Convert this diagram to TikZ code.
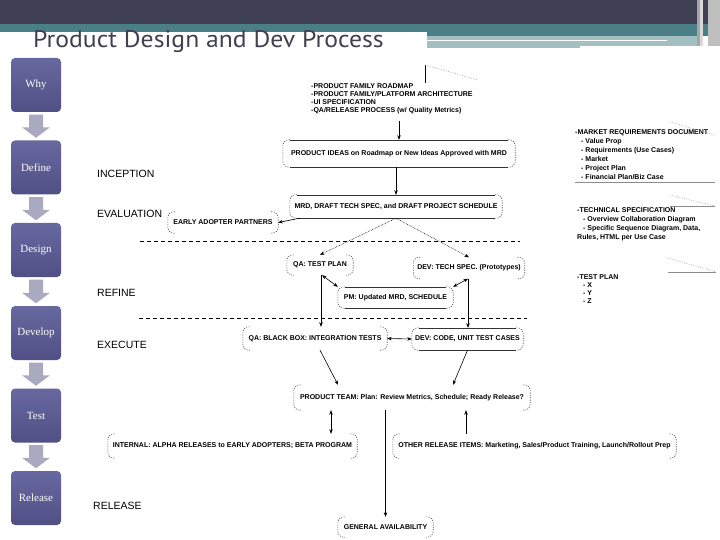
\documentclass[tikz,border=0pt]{standalone}
\usepackage{fontspec}
\setmainfont{Liberation Sans}
\newfontfamily\serifface{Liberation Serif}
\newfontfamily\titleface{PT Sans}[FakeStretch=1.07]
\usetikzlibrary{arrows.meta,calc}
\definecolor{hdrdark}{HTML}{404055}
\definecolor{hdrteal}{HTML}{4A7F87}
\definecolor{hdrlight}{HTML}{A3BFC1}
\definecolor{titlecol}{HTML}{404050}
\definecolor{boxtop}{HTML}{6868A0}
\definecolor{boxbot}{HTML}{505086}
\definecolor{arrowgrey}{HTML}{A9A9C0}
\definecolor{capgrey}{HTML}{5A5A5A}
\newcommand\captext{\bfseries\fontsize{7}{8}\selectfont}
\newcommand\capends[1]{%
  \draw[capline] ([xshift=7pt]#1.north west) -| (#1.south west) -- ([xshift=7pt]#1.south west);
  \draw[capline] ([xshift=-7pt]#1.north east) -| (#1.south east) -- ([xshift=-7pt]#1.south east);}
\newcommand\capsides[1]{%
  \draw[sideline] ([xshift=7pt]#1.north west) -- ([xshift=-7pt]#1.north east);
  \draw[sideline] ([xshift=7pt]#1.south west) -- ([xshift=-7pt]#1.south east);}
\begin{document}
\begin{tikzpicture}[x=1pt,y=-1pt,
  phasebox/.style={rounded corners=4pt, top color=boxtop, bottom color=boxbot,
    minimum width=50pt, minimum height=54pt, inner sep=0pt, text=white,
    font=\serifface\fontsize{11}{13}\selectfont},
  capnode/.style={font=\captext, inner sep=0pt, align=center},
  capline/.style={rounded corners=6pt, draw=capgrey, line width=0.6pt, dash pattern=on 1.2pt off 1.2pt},
  sideline/.style={draw=black!80, line width=0.5pt},
  phase/.style={anchor=west, inner sep=0pt, font=\fontsize{10.5}{12}\selectfont},
  note/.style={anchor=north west, inner sep=0pt, align=left, font=\bfseries\fontsize{7}{8}\selectfont},
  arr/.style={-{Stealth[length=4.5pt,width=3.5pt]}, line width=0.6pt},
  darr/.style={{Stealth[length=4.5pt,width=3.5pt]}-{Stealth[length=4.5pt,width=3.5pt]}, line width=0.6pt},
  dotarr/.style={-{Stealth[length=4.5pt,width=3.5pt]}, line width=0.5pt, dash pattern=on 0.7pt off 0.9pt},
  sep/.style={line width=0.6pt, dash pattern=on 4pt off 3pt},
  guide/.style={draw=black!45, line width=0.5pt, dash pattern=on 0.8pt off 1.6pt},
  rule/.style={draw=black!45, line width=0.6pt}]
\useasboundingbox (0,0) rectangle (720,540);
\fill[white] (0,0) rectangle (720,540);
% header
\fill[hdrdark] (0,0) rectangle (720,24);
\fill[hdrteal] (0,24) rectangle (720,32);
\fill[hdrteal] (427,32) rectangle (720,36);
\fill[hdrlight] (427,36) rectangle (702,48);
\fill[white] (427,40) rectangle (667,41.5);
\fill[white] (580,46) rectangle (702,48);
\fill[black!35] (697,0) rectangle (700,46);
\fill[black!15] (700,0) rectangle (703,46);
\fill[black!25] (708,0) rectangle (720,46);
\node[anchor=base west, inner sep=0pt, text=titlecol, font=\titleface\fontsize{24}{26}\selectfont] (title) at (33,48) {Product Design and Dev Process};
% left phase column
\node[phasebox] (why) at (36,85) {Why};
\node[phasebox] (define) at (36,167.5) {Define};
\node[phasebox] (design) at (36,250) {Design};
\node[phasebox] (develop) at (36,333) {Develop};
\node[phasebox] (test) at (36,415.5) {Test};
\node[phasebox] (release) at (36,498) {Release};
\foreach \a/\b in {why/define,define/design,design/develop,develop/test,test/release}{
  \fill[arrowgrey] ($(\a.south)+(-7,2.5)$) -- ($(\a.south)+(7,2.5)$) -- ($(\b.north)+(7,-13)$)
    -- ($(\b.north)+(14,-13)$) -- ($(\b.north)+(0,-2.5)$) -- ($(\b.north)+(-14,-13)$)
    -- ($(\b.north)+(-7,-13)$) -- cycle;}
% phase labels
\node[phase] (inception) at (97,174) {INCEPTION};
\node[phase] (evaluation) at (97,214) {EVALUATION};
\node[phase] (refine) at (97,293) {REFINE};
\node[phase] (execute) at (97,345) {EXECUTE};
\node[phase] (releaselab) at (93,506) {RELEASE};
% notes
\node[note] (roadmap) at (311,83) {-PRODUCT FAMILY ROADMAP\\-PRODUCT FAMILY/PLATFORM ARCHITECTURE\\-UI SPECIFICATION\\-QA/RELEASE PROCESS (w/ Quality Metrics)};
\node[note, font=\bfseries\fontsize{7}{9}\selectfont] (mrddoc) at (575,129.5) {-MARKET REQUIREMENTS DOCUMENT\\\hspace*{6pt}- Value Prop\\\hspace*{6pt}- Requirements (Use Cases)\\\hspace*{6pt}- Market\\\hspace*{6pt}- Project Plan\\\hspace*{6pt}- Financial Plan/Biz Case};
\node[note, font=\bfseries\fontsize{7}{9}\selectfont] (techspec) at (577,207.5) {-TECHNICAL SPECIFICATION\\\hspace*{6pt}- Overview Collaboration Diagram\\\hspace*{6pt}- Specific Sequence Diagram, Data,\\Rules, HTML per Use Case};
\node[note, font=\bfseries\fontsize{7}{8.3}\selectfont] (testplan) at (577,274) {-TEST PLAN\\\hspace*{6pt}- X\\\hspace*{6pt}- Y\\\hspace*{6pt}- Z};
% guide marks
\coordinate (g1) at (425,65);
\coordinate (g1b) at (425,83);
\coordinate (g1e) at (478,80);
\draw[line width=0.7pt] (g1) -- (g1b);
\draw[guide] (g1) -- (g1e);
\coordinate (g2) at (670,122);
\coordinate (g2e) at (715,135);
\draw[guide] (g2) -- (g2e);
\coordinate (r2a) at (575,182);
\coordinate (r2b) at (715,182);
\draw[rule] (r2a) -- (r2b);
\coordinate (g3) at (670,195);
\coordinate (g3e) at (715,206);
\draw[guide] (g3) -- (g3e);
\coordinate (r3a) at (670,206);
\draw[rule] (r3a) -- (g3e);
\coordinate (g4) at (668,258);
\coordinate (g4e) at (716,272);
\draw[guide] (g4) -- (g4e);
\coordinate (r4a) at (668,272);
\draw[rule] (r4a) -- (g4e);
% separators
\coordinate (s1a) at (140,241); \coordinate (s1b) at (520,241);
\draw[sep] (s1a) -- (s1b);
\coordinate (s2a) at (139,318); \coordinate (s2b) at (527,318);
\draw[sep] (s2a) -- (s2b);
% flow nodes
\node[capnode, minimum width=232pt, minimum height=27pt] (ideas) at (399,153.5) {PRODUCT IDEAS on Roadmap or New Ideas Approved with MRD};
\node[capnode, minimum width=212pt, minimum height=23pt] (mrd) at (396,206.5) {MRD, DRAFT TECH SPEC, and DRAFT PROJECT SCHEDULE};
\node[capnode, minimum width=110pt, minimum height=21pt] (early) at (223,222.5) {EARLY ADOPTER PARTNERS};
\node[capnode, minimum width=66pt, minimum height=20pt] (qatp) at (320,265) {QA: TEST PLAN};
\node[capnode, minimum width=111pt, minimum height=21pt] (devts) at (469,268) {DEV: TECH SPEC. (Prototypes)};
\node[capnode, minimum width=115pt, minimum height=21pt] (pm) at (395.5,297.5) {PM: Updated MRD, SCHEDULE};
\node[capnode, minimum width=144pt, minimum height=23pt] (qabb) at (315,338.5) {QA: BLACK BOX: INTEGRATION TESTS};
\node[capnode, minimum width=111pt, minimum height=22pt] (devcode) at (467.5,339) {DEV: CODE, UNIT TEST CASES};
\node[capnode, minimum width=236pt, minimum height=25pt] (team) at (412,397.5) {PRODUCT TEAM: Plan: Review Metrics, Schedule; Ready Release?};
\node[capnode, minimum width=249pt, minimum height=24pt] (internal) at (232.5,446) {INTERNAL: ALPHA RELEASES to EARLY ADOPTERS; BETA PROGRAM};
\node[capnode, minimum width=283pt, minimum height=24pt] (other) at (534.5,446) {OTHER RELEASE ITEMS: Marketing, Sales/Product Training, Launch/Rollout Prep};
\node[capnode, minimum width=95pt, minimum height=20pt] (ga) at (385.5,527) {GENERAL AVAILABILITY};
\foreach \n in {ideas,mrd,early,qatp,devts,pm,qabb,devcode,team,internal,other,ga}{\capends{\n}}
\foreach \n in {ideas,mrd,pm,devcode}{\capsides{\n}}
% connectors
\coordinate (topsrc) at (399,121);
\draw[arr] (topsrc) -- (ideas.north);
\draw[arr] (ideas.south -| mrd.north) -- (mrd.north);
\draw[arr] ([xshift=10pt]mrd.south west) -- (early.east);
\draw[dotarr] (mrd.south) -- (qatp.north);
\draw[dotarr] (mrd.south) -- (devts.north);
\draw[arr] ([xshift=1pt]qatp.south) -- ([xshift=1pt]qatp.south |- qabb.north);
\draw[darr] ([xshift=2pt]qatp.south) -- (pm.north west);
\draw[darr] ([xshift=-1pt]devts.south) -- (pm.north east);
\draw[arr] ([xshift=-1pt]devts.south) -- ([xshift=-1pt]devts.south |- devcode.north);
\draw[darr] (qabb.east) -- (devcode.west);
\draw[arr] ([xshift=5pt]qabb.south) -- ([xshift=-74pt]team.north);
\draw[arr] (devcode.south) -- ([xshift=41pt]team.north);
\draw[darr] ([xshift=-81pt]team.south) -- ([xshift=-81pt]team.south |- internal.north);
\draw[arr] ([xshift=-68.5pt]other.north) -- ([xshift=-68.5pt]other.north |- team.south);
\draw[arr] ([xshift=-26.5pt]team.south) -- (ga.north);
\end{tikzpicture}
\end{document}
